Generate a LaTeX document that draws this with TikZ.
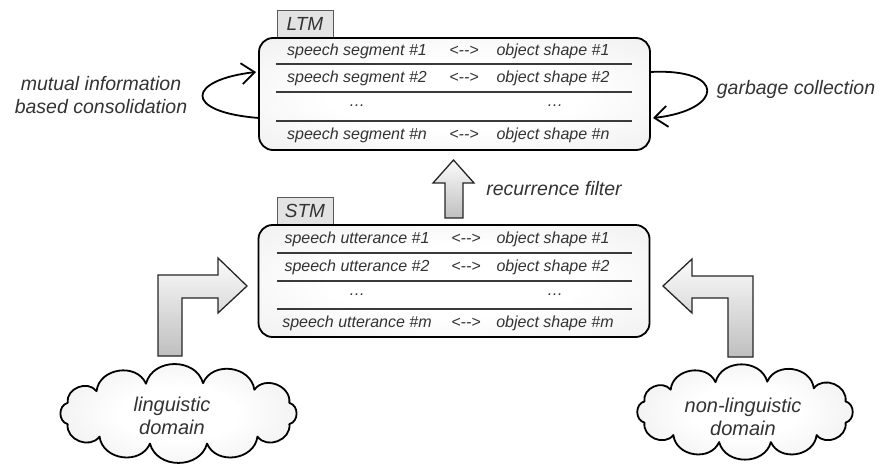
\documentclass[tikz,border=0pt]{standalone}
\usepackage{fontspec}
\setmainfont{Liberation Sans}
\usetikzlibrary{arrows.meta}
\definecolor{txt}{HTML}{333333}
\definecolor{linec}{HTML}{3A3A3A}
\pgfdeclareradialshading{softrad}{\pgfpoint{0bp}{0bp}}{color(0bp)=(white); color(16bp)=(white); color(50bp)=(gray!20); color(72bp)=(gray!30)}
\pgfdeclareradialshading{cloudrad}{\pgfpoint{0bp}{0bp}}{color(0bp)=(white); color(12bp)=(white); color(50bp)=(gray!28); color(72bp)=(gray!35)}
\newcommand{\cloudpts}[5]{%
  \foreach \ang [count=\k] in {20,50,78,106,134,160,200,228,256,284,312,340} {
    \coordinate (#1\k) at ({#2+#4*cos(\ang)},{#3-#5*sin(\ang)});
  }}
\begin{document}
\begin{tikzpicture}[x=1pt,y=-1pt,
  membox/.style={draw=black,line width=1.8pt,rounded corners=14pt,shading=softrad,minimum width=391pt,minimum height=112pt,inner sep=0pt},
  tabbox/.style={draw=gray!70!black,line width=0.9pt,fill=gray!22,minimum width=56pt,minimum height=27pt,inner sep=0pt,font=\fontsize{19}{22}\selectfont\itshape,text=txt},
  rowtxt/.style={font=\fontsize{16}{19}\selectfont\itshape,text=txt,inner sep=0pt},
  lbl/.style={font=\fontsize{19.5}{23}\selectfont\itshape,text=txt,align=center,inner sep=0pt},
  sepline/.style={draw=linec,line width=1.2pt},
  bigarrow/.style={draw=black!85,line width=1.3pt,top color=gray!3,bottom color=gray!50,line join=miter},
  selfloop/.style={draw=black,line width=1.8pt,-{Straight Barb[length=13pt,width=21pt,line width=1.8pt]}},
  cloudpath/.style={draw=black,line width=1.8pt,shading=cloudrad,line join=round},
  puff/.style={bend right=75,looseness=1.2},
  cloudtxt/.style={align=center,inner sep=0pt,font=\fontsize{20}{23}\selectfont\itshape,text=txt}
]
\useasboundingbox (0,0) rectangle (885,466);

% tabs
\node[tabbox] (ltmtab) at (305,24) {LTM};
\node[tabbox] (stmtab) at (305,211) {STM};

% boxes
\node[membox] (ltm) at (454.5,94) {};
\node[membox] (stm) at (454,281) {};

% separators
\foreach \yy in {64,92,121} \draw[sepline] (276,\yy) -- (632,\yy);
\foreach \yy in {253,281,309} \draw[sepline] (277,\yy) -- (632,\yy);

% LTM rows
\node[rowtxt] (l1a) at (357,51) {speech segment \#1};
\node[rowtxt] (l1b) at (464,51) {<{-}{-}>};
\node[rowtxt] (l1c) at (553,51) {object shape \#1};
\node[rowtxt] (l2a) at (357,78) {speech segment \#2};
\node[rowtxt] (l2b) at (464,78) {<{-}{-}>};
\node[rowtxt] (l2c) at (553,78) {object shape \#2};
\node[rowtxt] (l3a) at (357,106) {…};
\node[rowtxt] (l3c) at (555,106) {…};
\node[rowtxt] (l4a) at (357,135) {speech segment \#n};
\node[rowtxt] (l4b) at (464,135) {<{-}{-}>};
\node[rowtxt] (l4c) at (553,135) {object shape \#n};

% STM rows
\node[rowtxt] (s1a) at (357,239) {speech utterance \#1};
\node[rowtxt] (s1b) at (466,239) {<{-}{-}>};
\node[rowtxt] (s1c) at (553,239) {object shape \#1};
\node[rowtxt] (s2a) at (357,267) {speech utterance \#2};
\node[rowtxt] (s2b) at (466,267) {<{-}{-}>};
\node[rowtxt] (s2c) at (553,267) {object shape \#2};
\node[rowtxt] (s3a) at (357,295) {…};
\node[rowtxt] (s3c) at (555,295) {…};
\node[rowtxt] (s4a) at (357,323) {speech utterance \#m};
\node[rowtxt] (s4b) at (466,323) {<{-}{-}>};
\node[rowtxt] (s4c) at (555,323) {object shape \#m};

% self loops
\coordinate (la) at (259,118);
\coordinate (lb) at (256,72);
\coordinate (ra) at (650,72);
\coordinate (rb) at (653,118);
\draw[selfloop] (la) .. controls (182,112) and (187,80) .. (lb);
\draw[selfloop] (ra) .. controls (727,68) and (724,110) .. (rb);

% labels
\node[lbl] (mi) at (101,95) {mutual information\\based consolidation};
\node[lbl] (gc) at (796,89) {garbage collection};
\node[lbl] (rf) at (554,189) {recurrence filter};

% big arrows
\draw[bigarrow] (445,218) -- (445,183) -- (433,183) -- (453.5,160) -- (474,183) -- (463,183) -- (463,218) -- cycle;
\draw[bigarrow] (158,356) -- (158,275) -- (218,275) -- (218,258) -- (247,286) -- (218,313) -- (218,298) -- (182,298) -- (182,356) -- cycle;
\draw[bigarrow] (753,357) -- (753,276) -- (692,276) -- (692,259) -- (663,286) -- (692,313) -- (692,298) -- (728,298) -- (728,357) -- cycle;

% clouds
\cloudpts{lc}{178.5}{413.5}{118}{31}
\cloudpts{rc}{745}{412}{107}{31}
\draw[cloudpath] (lc1) to[puff] (lc2) to[puff] (lc3) to[puff] (lc4) to[puff] (lc5) to[puff] (lc6) to[puff] (lc7) to[puff] (lc8) to[puff] (lc9) to[puff] (lc10) to[puff] (lc11) to[puff] (lc12) to[puff] (lc1) -- cycle;
\draw[cloudpath] (rc1) to[puff] (rc2) to[puff] (rc3) to[puff] (rc4) to[puff] (rc5) to[puff] (rc6) to[puff] (rc7) to[puff] (rc8) to[puff] (rc9) to[puff] (rc10) to[puff] (rc11) to[puff] (rc12) to[puff] (rc1) -- cycle;
\node[cloudtxt] (ling) at (172,416) {linguistic\\domain};
\node[cloudtxt] (nonling) at (743,417) {non-linguistic\\domain};
\end{tikzpicture}
\end{document}
